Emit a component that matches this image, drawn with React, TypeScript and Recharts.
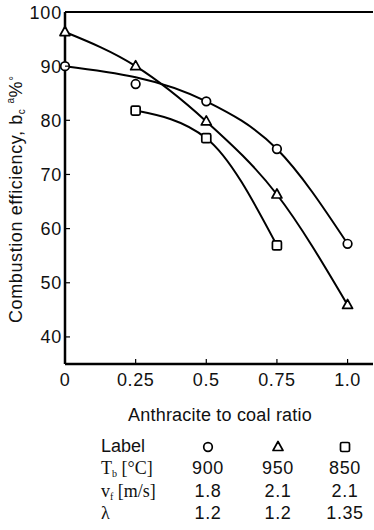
import { ComposedChart, Line, XAxis, YAxis, ReferenceLine } from "recharts";

// Combustion efficiency vs anthracite to coal ratio
const xTicks = [0, 0.25, 0.5, 0.75, 1.0];
const xTickLabels = ["0", "0.25", "0.5", "0.75", "1.0"];
const yTicks = [40, 50, 60, 70, 80, 90, 100];

// circle series (900 °C): fitted curve through these points
const circleCurve = [
  { x: 0, y: 90 },
  { x: 0.5, y: 83.5 },
  { x: 0.75, y: 74.7 },
  { x: 1.0, y: 57.2 },
];
// circle measured off the curve
const circleOff = [{ x: 0.25, y: 86.7 }];

const triangleData = [
  { x: 0, y: 96.3 },
  { x: 0.25, y: 90 },
  { x: 0.5, y: 79.8 },
  { x: 0.75, y: 66.3 },
  { x: 1.0, y: 45.9 },
];

const squareData = [
  { x: 0.25, y: 81.8 },
  { x: 0.5, y: 76.7 },
  { x: 0.75, y: 56.9 },
];

// condition table under the chart
const markers = ["circle", "triangle", "square"];
const bedTemp = ["900", "950", "850"];
const velocity = ["1.8", "2.1", "2.1"];
const excessAir = ["1.2", "1.2", "1.35"];

const FONT = "'Liberation Sans', Arial, sans-serif";
const SERIF = "'Liberation Serif', 'Times New Roman', serif";

const Marker = ({ cx, cy, shape }: { cx: number; cy: number; shape: string }) => {
  if (cx == null || cy == null) return null;
  const common = { fill: "#fff", stroke: "#000", strokeWidth: 1.7 };
  if (shape === "triangle") {
    return (
      <polygon
        points={`${cx},${cy - 5.5} ${cx + 5},${cy + 3.5} ${cx - 5},${cy + 3.5}`}
        {...common}
        strokeLinejoin="round"
      />
    );
  }
  if (shape === "square") {
    return <rect x={cx - 4.5} y={cy - 4.5} width={9} height={9} rx={1.5} {...common} />;
  }
  return <circle cx={cx} cy={cy} r={4.3} {...common} />;
};

const dotFor = (shape: string) => (props: any) => (
  <Marker key={`${shape}-${props.index}`} cx={props.cx} cy={props.cy} shape={shape} />
);

const YTick = (props: any) => {
  const { x, y, payload } = props;
  return (
    <g>
      <line x1={x + 3} x2={x + 8} y1={y} y2={y} stroke="#000" strokeWidth={1.2} />
      <text
        x={x}
        y={y}
        dy={6.5}
        textAnchor="end"
        fontSize={18}
        letterSpacing={0.8}
        fontFamily={FONT}
        fill="#111"
      >
        {payload.value}
      </text>
    </g>
  );
};

const XTick = (props: any) => {
  const { x, y, payload, index } = props;
  return (
    <g>
      <line x1={x} x2={x} y1={y} y2={y - 5} stroke="#000" strokeWidth={1.2} />
      <text
        x={x}
        y={y}
        dy={22}
        textAnchor="middle"
        fontSize={18}
        letterSpacing={0.6}
        fontFamily={FONT}
        fill="#111"
      >
        {xTickLabels[index] ?? payload.value}
      </text>
    </g>
  );
};

const colX = [208, 278, 345];
const rowY = [452, 474, 497, 519];

export default function App() {
  return (
    <div style={{ position: "absolute", left: 0, top: 0, width: 374, height: 530, background: "#fff" }}>
      <ComposedChart
        width={374}
        height={530}
        margin={{ top: 12, right: 1, bottom: 136, left: 5 }}
      >
        <XAxis
          type="number"
          dataKey="x"
          domain={[0, 1.09]}
          ticks={xTicks}
          tickSize={0}
          tickMargin={0}
          tickLine={false}
          height={30}
          axisLine={{ stroke: "#000", strokeWidth: 2.5 }}
          tick={<XTick />}
        />
        <YAxis
          type="number"
          dataKey="y"
          domain={[35, 100]}
          ticks={yTicks}
          tickSize={0}
          tickMargin={3}
          tickLine={false}
          width={60}
          axisLine={{ stroke: "#000", strokeWidth: 2.5 }}
          tick={<YTick />}
        />
        <ReferenceLine y={100} stroke="#000" strokeWidth={2} />
        <Line
          data={circleCurve}
          dataKey="y"
          type="monotone"
          stroke="#000"
          strokeWidth={2}
          dot={dotFor("circle")}
          activeDot={false}
          isAnimationActive={false}
        />
        <Line
          data={circleOff}
          dataKey="y"
          stroke="none"
          dot={dotFor("circle")}
          activeDot={false}
          isAnimationActive={false}
        />
        <Line
          data={triangleData}
          dataKey="y"
          type="monotone"
          stroke="#000"
          strokeWidth={2}
          dot={dotFor("triangle")}
          activeDot={false}
          isAnimationActive={false}
        />
        <Line
          data={squareData}
          dataKey="y"
          type="monotone"
          stroke="#000"
          strokeWidth={2}
          dot={dotFor("square")}
          activeDot={false}
          isAnimationActive={false}
        />
      </ComposedChart>
      <svg
        width={374}
        height={530}
        style={{ position: "absolute", left: 0, top: 0, pointerEvents: "none" }}
      >
        <text
          transform="translate(22,323) rotate(-90)"
          textAnchor="start"
          fontSize={18}
          letterSpacing={0.6}
          fontFamily={FONT}
          fill="#111"
        >
          Combustion efficiency, b
          <tspan fontSize={10} dy={3}>c</tspan>
          <tspan fontSize={10} dy={-11} dx={5}>a</tspan>
          <tspan dy={8}>%</tspan>
          <tspan fontSize={12} dy={-4}>°</tspan>
        </text>
        <text
          x={220}
          y={421}
          textAnchor="middle"
          fontSize={18}
          letterSpacing={0.2}
          fontFamily={FONT}
          fill="#111"
        >
          Anthracite to coal ratio
        </text>

        <text x={101} y={rowY[0]} fontSize={18} fontFamily={FONT} fill="#111">
          Label
        </text>
        {markers.map((m, i) => (
          <Marker key={m} cx={colX[i]} cy={rowY[0] - 5} shape={m} />
        ))}

        <text x={101} y={rowY[1]} fontSize={18} fontFamily={SERIF} fill="#111">
          T<tspan fontSize={10} dy={3}>b</tspan>
          <tspan dy={-3}> [°C]</tspan>
        </text>
        <text x={101} y={rowY[2]} fontSize={18} fontFamily={SERIF} fill="#111">
          v<tspan fontSize={10} dy={3}>f</tspan>
          <tspan dy={-3}> [m/s]</tspan>
        </text>
        <text x={101} y={rowY[3]} fontSize={18} fontFamily={SERIF} fill="#111">
          λ
        </text>
        {[bedTemp, velocity, excessAir].map((row, r) =>
          row.map((v, i) => (
            <text
              key={`${r}-${i}`}
              x={colX[i]}
              y={rowY[r + 1]}
              textAnchor="middle"
              fontSize={18}
              letterSpacing={0.6}
              fontFamily={FONT}
              fill="#111"
            >
              {v}
            </text>
          ))
        )}
      </svg>
    </div>
  );
}
